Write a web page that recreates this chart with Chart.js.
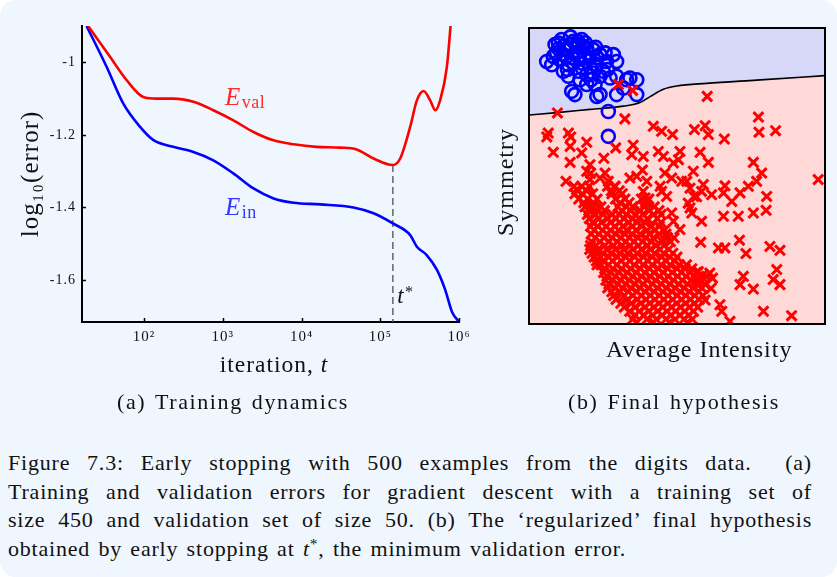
<!DOCTYPE html>
<html><head><meta charset="utf-8">
<script src="https://cdn.jsdelivr.net/npm/chart.js@4.4.1/dist/chart.umd.min.js"></script>
<style>
html,body{margin:0;padding:0;background:#ffffff;}
#page{position:absolute;left:0;top:0;width:837px;height:577px;background:#eff6fd;border-radius:16px;overflow:hidden;font-family:'Liberation Serif','Times New Roman','DejaVu Serif',serif;color:#111;}
#w1{position:absolute;left:0;top:0;width:480px;height:390px;}
#w2{position:absolute;left:490px;top:0;width:347px;height:370px;}
.sub{position:absolute;top:388px;font-size:22px;line-height:28px;white-space:nowrap;transform:translateX(-50%);letter-spacing:1.6px;word-spacing:2px;}
#cap{position:absolute;left:8px;top:449px;width:804px;font-size:22px;line-height:28.7px;letter-spacing:0.8px;word-spacing:2px;}
.j{text-align:justify;text-align-last:justify;white-space:nowrap;}
.st{position:relative;top:-0.45em;font-size:0.7em;}
</style></head>
<body>
<div id="page">
  <div id="w1"><canvas id="c1" width="480" height="390"></canvas></div>
  <div id="w2"><canvas id="c2" width="347" height="370"></canvas></div>
  <div class="sub" style="left:233px">(a) Training dynamics</div>
  <div class="sub" style="left:674px">(b) Final hypothesis</div>
  <div id="cap">
    <div class="j">Figure 7.3: Early stopping with 500 examples from the digits data.&nbsp; (a)</div>
    <div class="j">Training and validation errors for gradient descent with a training set of</div>
    <div class="j">size 450 and validation set of size 50. (b) The ‘regularized’ final hypothesis</div>
    <div>obtained by early stopping at <i>t</i><span class="st">*</span>, the minimum validation error.</div>
  </div>
</div>
<script>
// ---------- (a) Training dynamics : log10(iteration) and log10(error) ----------
const valLogT = [1.29, 1.568, 1.78, 1.99, 2.16, 2.37, 2.627, 2.88, 3.135, 3.39, 3.645, 3.90, 4.19, 4.49, 4.70, 4.915, 5.16, 5.253, 5.38, 5.465, 5.55, 5.634, 5.70, 5.76, 5.846, 5.893];
const valErr  = [-0.90, -0.985, -1.0495, -1.0955, -1.10, -1.10, -1.109, -1.132, -1.16, -1.192, -1.215, -1.226, -1.233, -1.235, -1.240, -1.265, -1.283, -1.265, -1.178, -1.105, -1.079, -1.105, -1.132, -1.105, -1.013, -0.90];
const inLogT  = [1.27, 1.526, 1.737, 1.95, 2.12, 2.37, 2.627, 2.88, 3.135, 3.39, 3.645, 3.90, 4.236, 4.66, 4.915, 5.16, 5.38, 5.465, 5.59, 5.72, 5.825, 5.91, 5.995];
const inErr   = [-0.90, -1.013, -1.114, -1.178, -1.2146, -1.233, -1.247, -1.27, -1.306, -1.3475, -1.375, -1.387, -1.3915, -1.40, -1.416, -1.444, -1.476, -1.508, -1.531, -1.572, -1.627, -1.687, -1.714];
const tStarLogT = 5.16;
const tStarErr = -1.283;
const xTickValues = [1e2, 1e3, 1e4, 1e5, 1e6];
const xTickLabels = ['10²', '10³', '10⁴', '10⁵', '10⁶'];
const yTickValues = [-1.6, -1.4, -1.2, -1];
const yTickLabels = ['-1.6', '-1.4', '-1.2', '-1'];

// ---------- (b) Final hypothesis : average intensity vs symmetry (arbitrary 0-100 units) ----------
const boundaryX = [0, 9.4, 20.6, 31.9, 37.5, 40.9, 45.4, 49.9, 60.0, 76.9, 100];
const boundaryY = [70.6, 71.4, 72.5, 73.6, 74.8, 76.8, 79.3, 80.4, 81.3, 82.4, 83.9];
const onesPts = [
 [5.97,88.7],[7.66,87.6],[9.91,94.9],[11.0,96.1],[12.2,92.7],[13.9,94.4],[15.0,95.5],[17.8,96.1],[9.35,91.6],[12.7,90.4],
 [16.1,91.6],[19.5,93.2],[21.7,92.7],[20.6,89.9],[24.0,91.0],[25.7,91.6],[28.5,91.0],[29.6,88.7],[26.2,88.7],[22.9,87.6],
 [17.8,88.2],[15.0,88.2],[11.6,85.4],[13.3,83.7],[16.7,85.4],[19.5,84.2],[21.7,84.8],[25.1,85.4],[24.0,83.7],[27.4,83.1],
 [29.6,83.7],[33.0,82.5],[34.1,83.1],[36.4,82.5],[14.4,78.6],[15.5,77.5],[19.5,80.9],[22.9,76.9],[24.0,77.5],[29.6,77.5],
 [36.4,77.5],[20.6,87.0],[10.5,89.3],[8.2,90.4],[18.4,93.8],[16.1,93.8],[13.3,87.6],[17.2,82.5],[26.8,71.8],[26.8,63.4],
 [8.8,94.4],[18.9,89.9],[22.3,80.9],[31.9,79.7],
 [11.5,91.0],[14.5,90.0],[17.0,90.5],[20.0,91.5],[23.0,90.0],[13.0,86.0],[18.0,86.5],[21.0,82.5],[26.5,86.0],[10.0,93.0],
 [14.0,97.0],[12.0,94.0],[16.5,95.5],[19.0,95.0],[22.5,93.5]
];
const othersPts = [
 [30.2,80.9],[35.0,78.9],[60.2,76.9],[9.6,71.3],[32.4,69.3],[77.5,69.9],[77.7,64.8],[83.3,65.3],[42.0,66.8],[44.8,65.1],
 [48.5,64.0],[55.9,65.7],[59.5,67.0],[60.6,64.0],[66.0,62.5],[6.5,64.5],[6.0,63.2],[13.3,64.5],[14.1,63.2],[8.2,58.0],
 [13.9,60.0],[19.5,61.4],[17.8,57.8],[13.9,54.6],[29.3,59.5],[35.2,60.4],[34.7,57.2],[38.6,56.6],[43.7,58.3],[45.4,56.6],
 [51.0,58.3],[50.5,55.5],[48.8,54.4],[57.8,58.0],[60.6,54.6],[55.5,51.6],[53.3,48.2],[75.8,54.6],[78.6,51.0],[76.9,48.2],
 [74.1,46.5],[71.3,44.3],[66.2,46.7],[65.7,44.3],[61.7,43.7],[68.5,41.4],[80.3,43.1],[97.7,48.8],[20.6,53.8],[19.5,51.6],
 [25.7,51.0],[20.6,48.8],[12.5,48.2],[16.1,45.4],[24.0,49.3],[26.8,48.2],[29.1,46.5],[34.1,49.3],[36.4,49.9],[38.6,44.8],
 [39.8,48.2],[45.9,51.0],[48.2,49.3],[51.6,48.2],[44.3,46.5],[44.8,44.8],[46.5,43.1],[39.8,41.4],[39.2,42.6],[54.4,45.9],
 [55.7,43.1],[58.9,47.1],[58.3,44.8],[54.4,39.2],[55.0,37.5],[48.2,37.5],[48.8,34.7],[51.0,31.9],[58.3,34.7],[65.7,36.4],
 [70.7,36.4],[75.8,37.5],[80.1,38.4],[58.0,27.6],[64.0,25.7],[66.2,25.7],[71.1,28.3],[73.3,23.8],[81.4,26.2],[84.8,24.9],
 [83.7,18.4],[82.5,15.0],[84.8,13.3],[72.4,16.1],[71.3,13.3],[75.8,11.8],[79.2,4.3],[88.7,2.8],[64.5,6.5],[65.1,4.3],
 [67.9,0.9],[60.0,16.1],[61.1,17.2],[57.2,13.3],[25.3,56.0],[38.3,52.0],[56.6,43.0],[53.8,40.8],[57.2,17.7],[56.6,14.9],
 [59.5,8.1],[61.5,12.0],[62.0,15.5],[20.8,50.9],
 // dense cluster
 [15.2,46.5],[17.8,46.5],[20.3,46.5],[26.5,46.5],[29.0,46.5],
 [16.5,45.0],[19.5,45.0],[27.8,45.0],[30.5,45.0],
 [15.5,44.0],[18.0,44.0],[21.5,44.0],[28.0,44.0],[31.5,44.0],
 [16.8,42.2],[19.8,42.2],[23.0,42.2],[29.2,42.2],[32.4,42.2],[38.0,42.2],[40.5,42.2],
 [18.5,41.0],[21.8,41.0],[30.8,41.0],[33.8,41.0],[39.3,41.0],
 [18.9,39.6],[21.0,39.6],[24.3,39.6],[30.0,39.6],[32.9,39.6],[35.0,39.6],[39.0,39.6],[42.3,39.6],
 [20.2,38.3],[23.1,38.3],[25.5,38.3],[31.4,38.3],[34.3,38.3],[37.6,38.3],[40.6,38.3],[43.9,38.3],
 [19.7,37.0],[22.5,37.0],[25.0,37.0],[28.2,37.0],[30.5,37.0],[33.0,37.0],[36.0,37.0],[38.4,37.0],[42.1,37.0],[44.6,37.0],
 [20.4,35.6],[23.6,35.6],[26.6,35.6],[29.4,35.6],[32.1,35.6],[35.0,35.6],[37.1,35.6],[40.0,35.6],[43.3,35.6],
 [21.5,34.3],[24.5,34.3],[27.6,34.3],[30.7,34.3],[33.8,34.3],[36.5,34.3],[39.2,34.3],[44.6,34.3],
 [20.8,33.0],[23.2,33.0],[26.0,33.0],[29.0,33.0],[31.8,33.0],[35.0,33.0],[38.2,33.0],[41.5,33.0],[44.0,33.0],
 [22.0,31.7],[24.9,31.7],[27.5,31.7],[30.2,31.7],[33.0,31.7],[36.1,31.7],[39.9,31.7],[42.6,31.7],[45.8,31.7],
 [21.0,30.4],[23.6,30.4],[26.4,30.4],[29.3,30.4],[32.4,30.4],[34.8,30.4],[37.5,30.4],[40.6,30.4],[43.9,30.4],[46.3,30.4],
 [22.4,29.1],[25.3,29.1],[28.1,29.1],[31.0,29.1],[33.9,29.1],[36.8,29.1],[39.5,29.1],[42.0,29.1],[46.8,29.1],[49.0,29.1],
 [21.2,27.8],[24.0,27.8],[27.0,27.8],[29.8,27.8],[32.7,27.8],[35.5,27.8],[38.4,27.8],[41.3,27.8],[45.0,27.8],[47.8,27.8],
 [20.8,26.5],[22.6,26.5],[25.6,26.5],[28.6,26.5],[31.5,26.5],[34.2,26.5],[37.0,26.5],[40.1,26.5],[43.0,26.5],[45.6,26.5],
 [20.5,25.2],[23.3,25.2],[26.2,25.2],[29.2,25.2],[32.0,25.2],[35.1,25.2],[38.0,25.2],[41.0,25.2],[44.2,25.2],[47.2,25.2],
 [21.3,23.9],[23.0,23.9],[25.0,23.9],[27.7,23.9],[30.6,23.9],[33.3,23.9],[36.5,23.9],[39.3,23.9],[42.4,23.9],[45.5,23.9],[48.6,23.9],
 [22.0,22.6],[24.2,22.6],[27.0,22.6],[29.9,22.6],[32.8,22.6],[35.7,22.6],[38.7,22.6],[41.6,22.6],[44.8,22.6],[47.6,22.6],[50.0,22.6],
 [22.8,21.3],[25.0,21.3],[28.2,21.3],[31.1,21.3],[34.0,21.3],[37.2,21.3],[40.2,21.3],[43.3,21.3],[46.3,21.3],[49.2,21.3],
 [23.0,20.0],[24.4,20.0],[26.9,20.0],[29.6,20.0],[32.6,20.0],[35.5,20.0],[38.5,20.0],[41.6,20.0],[44.6,20.0],[47.7,20.0],[50.8,20.0],[53.2,20.0],
 [25.6,18.7],[28.4,18.7],[31.3,18.7],[34.4,18.7],[37.6,18.7],[40.7,18.7],[43.7,18.7],[46.9,18.7],[50.0,18.7],[52.7,18.7],[55.0,18.7],
 [25.2,17.4],[27.6,17.4],[30.3,17.4],[33.2,17.4],[36.2,17.4],[39.1,17.4],[42.2,17.4],[45.3,17.4],[48.4,17.4],[51.5,17.4],[54.4,17.4],[56.5,17.4],
 [26.3,16.1],[29.2,16.1],[32.0,16.1],[35.0,16.1],[38.0,16.1],[41.0,16.1],[44.1,16.1],[47.0,16.1],[50.2,16.1],[53.1,16.1],[56.0,16.1],[58.3,16.1],
 [26.0,14.8],[28.2,14.8],[31.0,14.8],[33.9,14.8],[36.8,14.8],[39.9,14.8],[42.8,14.8],[45.9,14.8],[48.8,14.8],[51.8,14.8],[54.8,14.8],[57.6,14.8],
 [27.0,13.5],[30.0,13.5],[32.7,13.5],[35.7,13.5],[38.6,13.5],[41.7,13.5],[44.7,13.5],[47.6,13.5],[50.6,13.5],[53.6,13.5],[56.6,13.5],[59.4,13.5],
 [26.6,12.2],[29.0,12.2],[31.6,12.2],[34.5,12.2],[37.5,12.2],[40.4,12.2],[43.4,12.2],[46.4,12.2],[49.4,12.2],[52.4,12.2],[55.4,12.2],[58.4,12.2],
 [28.0,10.9],[30.8,10.9],[33.6,10.9],[36.4,10.9],[39.3,10.9],[42.3,10.9],[45.3,10.9],[48.3,10.9],[51.2,10.9],[54.2,10.9],[57.4,10.9],
 [28.6,9.6],[32.2,9.6],[35.1,9.6],[38.0,9.6],[41.0,9.6],[44.0,9.6],[47.0,9.6],[50.1,9.6],[53.0,9.6],[56.0,9.6],[58.8,9.6],
 [29.4,8.3],[33.3,8.3],[36.6,8.3],[39.6,8.3],[42.6,8.3],[45.6,8.3],[48.6,8.3],[51.6,8.3],[54.6,8.3],[57.5,8.3],
 [31.0,7.0],[34.6,7.0],[37.8,7.0],[40.8,7.0],[43.9,7.0],[46.9,7.0],[49.9,7.0],[52.9,7.0],[55.9,7.0],
 [32.2,5.7],[35.9,5.7],[39.2,5.7],[42.2,5.7],[45.2,5.7],[48.2,5.7],[51.2,5.7],[54.2,5.7],[57.0,5.7],
 [34.0,4.3],[37.2,4.3],[40.4,4.3],[43.4,4.3],[46.6,4.3],[49.5,4.3],[52.6,4.3],[55.6,4.3],
 [35.8,3.0],[38.7,3.0],[41.8,3.0],[45.0,3.0],[48.0,3.0],[51.0,3.0],[54.0,3.0],
 [35.0,1.6],[39.8,1.6],[43.0,1.6],[46.2,1.6],[49.3,1.6],[52.3,1.6],[55.2,1.6],
 [36.5,0.6],[42.0,0.6],[47.5,0.6],[53.5,0.6]
];

const SERIF = "'Liberation Serif', 'Times New Roman', 'DejaVu Serif', serif";
const TXT = '#111111';

const spacing = px => ({
  id: 'spacing',
  beforeUpdate(chart) { chart.ctx.letterSpacing = px; },
  beforeDraw(chart) { chart.ctx.letterSpacing = px; }
});

// ---------------- chart (a) ----------------
const labelT = 1070;          // position of the curve labels (iteration)
const valLabelErr = -1.118;
const inLabelErr = -1.421;
const tStarLabelLogT = 5.215;
const tStarLabelErr = -1.663;

const decorA = {
  id: 'decorA',
  afterDraw(chart) {
    const {ctx, chartArea: a, scales: {x, y}} = chart;
    ctx.save();
    ctx.strokeStyle = '#000'; ctx.lineWidth = 1.5;
    xTickValues.forEach(v => {
      const px = Math.round(x.getPixelForValue(v)) + 0.5;
      ctx.beginPath(); ctx.moveTo(px, a.bottom); ctx.lineTo(px, a.bottom - 4); ctx.stroke();
    });
    yTickValues.forEach(v => {
      const py = Math.round(y.getPixelForValue(v)) + 0.5;
      ctx.beginPath(); ctx.moveTo(a.left, py); ctx.lineTo(a.left + 4, py); ctx.stroke();
    });
    ctx.letterSpacing = '0.5px';
    const lab = (t, e, main, sub, color) => {
      const px = x.getPixelForValue(t), py = y.getPixelForValue(e);
      ctx.fillStyle = color; ctx.textAlign = 'left'; ctx.textBaseline = 'alphabetic';
      ctx.font = 'italic 25px ' + SERIF; ctx.fillText(main, px, py);
      const w = ctx.measureText(main).width;
      ctx.font = '18px ' + SERIF; ctx.fillText(sub, px + w + 1, py + 3);
    };
    lab(labelT, valLabelErr, 'E', 'val', '#ff2a2a');
    lab(labelT, inLabelErr, 'E', 'in', '#3636ff');
    const tx = x.getPixelForValue(Math.pow(10, tStarLabelLogT)), ty = y.getPixelForValue(tStarLabelErr);
    ctx.fillStyle = TXT;
    ctx.font = 'italic 23px ' + SERIF; ctx.fillText('t', tx, ty);
    const tw = ctx.measureText('t').width;
    ctx.font = '16px ' + SERIF; ctx.fillText('*', tx + tw + 1, ty - 6);
    // x axis title "iteration, t"
    ctx.letterSpacing = '1px';
    ctx.font = '23.5px ' + SERIF;
    const p1 = 'iteration, ';
    const w1 = ctx.measureText(p1).width;
    ctx.font = 'italic 23.5px ' + SERIF;
    const w2 = ctx.measureText('t').width;
    const cx = 274, cy = 366;
    const sx = cx - (w1 + w2) / 2;
    ctx.textBaseline = 'middle';
    ctx.font = '23.5px ' + SERIF; ctx.fillText(p1, sx, cy);
    ctx.font = 'italic 23.5px ' + SERIF; ctx.fillText('t', sx + w1, cy);
    ctx.restore();
  }
};

new Chart(document.getElementById('c1'), {
  type: 'line',
  data: {
    datasets: [
      { label: 'E_val', data: valLogT.map((lt, i) => ({x: Math.pow(10, lt), y: valErr[i]})),
        borderColor: '#ff0000', borderWidth: 2.6, pointRadius: 0, cubicInterpolationMode: 'monotone', fill: false },
      { label: 'E_in', data: inLogT.map((lt, i) => ({x: Math.pow(10, lt), y: inErr[i]})),
        borderColor: '#0000ff', borderWidth: 2.6, pointRadius: 0, cubicInterpolationMode: 'monotone', fill: false },
      { label: 't*', data: [{x: Math.pow(10, tStarLogT), y: tStarErr}, {x: Math.pow(10, tStarLogT), y: -1.7155}],
        borderColor: '#5a5a5a', borderWidth: 1.4, borderDash: [7, 4], pointRadius: 0, fill: false }
    ]
  },
  options: {
    responsive: false, animation: false, devicePixelRatio: 1,
    layout: { padding: { left: 0, right: 21, top: 26, bottom: 0 } },
    plugins: { legend: { display: false }, tooltip: { enabled: false } },
    scales: {
      x: {
        type: 'logarithmic', min: 16.3, max: 1e6,
        afterBuildTicks: s => { s.ticks = xTickValues.map(v => ({value: v})); },
        afterFit: s => { s.height = 68; },
        ticks: { callback: (v, i) => xTickLabels[i], font: { family: SERIF, size: 15 }, color: TXT, padding: 6, maxRotation: 0, autoSkip: false },
        grid: { display: false, drawTicks: false },
        border: { display: true, color: '#000', width: 2 }
      },
      y: {
        min: -1.7155, max: -0.9,
        afterBuildTicks: s => { s.ticks = yTickValues.map(v => ({value: v})); },
        afterFit: s => { s.width = 82; },
        ticks: { callback: (v, i) => yTickLabels[i], font: { family: SERIF, size: 14 }, color: TXT, padding: 6 },
        grid: { display: false, drawTicks: false },
        border: { display: true, color: '#000', width: 2 },
        title: { display: true, text: 'log₁₀(error)', font: { family: SERIF, size: 25 }, color: TXT, padding: { top: 16, bottom: 0 } }
      }
    }
  },
  plugins: [spacing('1px'), decorA]
});

// ---------------- chart (b) ----------------
const decorB = {
  id: 'decorB',
  afterDraw(chart) {
    const {ctx, chartArea: a} = chart;
    ctx.save(); ctx.strokeStyle = '#000'; ctx.lineWidth = 2;
    ctx.strokeRect(a.left, a.top, a.right - a.left, a.bottom - a.top);
    ctx.fillStyle = TXT; ctx.letterSpacing = '1px';
    ctx.font = '24px ' + SERIF; ctx.textAlign = 'center'; ctx.textBaseline = 'middle';
    ctx.fillText('Average Intensity', a.left + 0.575 * (a.right - a.left), a.bottom + 27);
    ctx.translate(a.left - 22, (a.top + a.bottom) / 2 + 6);
    ctx.rotate(-Math.PI / 2);
    ctx.fillText('Symmetry', 0, 0);
    ctx.restore();
  }
};
const boundaryData = boundaryX.map((v, i) => ({x: v, y: boundaryY[i]}));

new Chart(document.getElementById('c2'), {
  type: 'scatter',
  data: {
    datasets: [
      { label: 'others', data: othersPts.map(p => ({x: p[0], y: p[1]})), order: 0,
        pointStyle: 'crossRot', pointRadius: 7, borderColor: '#ff0000', borderWidth: 3, backgroundColor: '#ff0000', clip: 0 },
      { label: 'ones', data: onesPts.map(p => ({x: p[0], y: p[1]})), order: 1,
        pointStyle: 'circle', pointRadius: 6.5, borderColor: '#0000ff', borderWidth: 2.6, backgroundColor: 'rgba(0,0,0,0)', clip: 0 },
      { label: 'boundary', type: 'line', data: boundaryData, order: 2, showLine: true,
        borderColor: '#000', borderWidth: 1.6, pointRadius: 0, cubicInterpolationMode: 'monotone',
        fill: 'end', backgroundColor: '#d7d7fa' },
      { label: 'below', type: 'line', data: boundaryData, order: 3, showLine: true,
        borderColor: 'rgba(0,0,0,0)', borderWidth: 0, pointRadius: 0, cubicInterpolationMode: 'monotone',
        fill: 'start', backgroundColor: '#ffd8d8' }
    ]
  },
  options: {
    responsive: false, animation: false, devicePixelRatio: 1,
    layout: { padding: { left: 0, right: 12, top: 28, bottom: 0 } },
    plugins: { legend: { display: false }, tooltip: { enabled: false } },
    scales: {
      x: { type: 'linear', min: 0, max: 100,
        afterFit: s => { s.height = 46; },
        ticks: { display: false }, grid: { display: false, drawTicks: false }, border: { display: false },
        title: { display: false, text: 'Average Intensity' } },
      y: { type: 'linear', min: 0, max: 100,
        afterFit: s => { s.width = 39; },
        ticks: { display: false }, grid: { display: false, drawTicks: false }, border: { display: false },
        title: { display: false, text: 'Symmetry' } }
    }
  },
  plugins: [spacing('1px'), decorB]
});
</script>
</body></html>
